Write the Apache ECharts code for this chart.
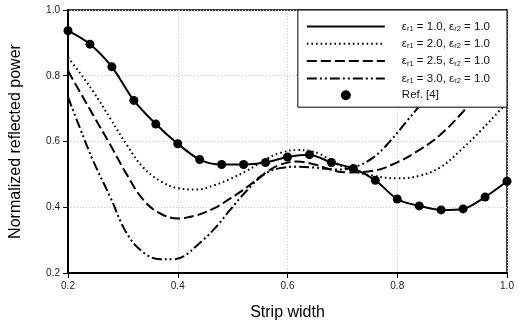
<!DOCTYPE html>
<html>
<head>
<meta charset="utf-8">
<script src="https://cdn.jsdelivr.net/npm/echarts@6/dist/echarts.min.js"></script>
<style>
  html, body { margin: 0; padding: 0; background: #fff; }
  #chart { width: 522px; height: 326px; }
</style>
</head>
<body>
<div id="chart"></div>
<script>
// ---- Data ----
var xTicks = [0.2, 0.4, 0.6, 0.8, 1.0];
var yTicks = [0.2, 0.4, 0.6, 0.8, 1.0];

var stripWidth = [0.20, 0.24, 0.28, 0.32, 0.36, 0.40, 0.44, 0.48, 0.52, 0.56, 0.60,
                  0.64, 0.68, 0.72, 0.76, 0.80, 0.84, 0.88, 0.92, 0.96, 1.00];

// eps_r1 = 1.0 (solid)
var eps10 = [0.937, 0.896, 0.827, 0.725, 0.653, 0.593, 0.545, 0.530, 0.530, 0.536, 0.553,
             0.560, 0.536, 0.518, 0.482, 0.425, 0.404, 0.392, 0.395, 0.431, 0.479];
// Ref. [4] markers
var ref4 = [0.937, 0.896, 0.827, 0.725, 0.653, 0.593, 0.545, 0.530, 0.530, 0.536, 0.553,
            0.560, 0.536, 0.518, 0.482, 0.425, 0.404, 0.392, 0.395, 0.431, 0.479];

// eps_r1 = 2.0 (dotted): [x, y]
var eps20 = [[0.200, 0.856], [0.222, 0.808], [0.246, 0.752], [0.277, 0.670], [0.307, 0.590],
             [0.337, 0.521], [0.368, 0.480], [0.400, 0.458], [0.435, 0.454], [0.465, 0.466],
             [0.495, 0.486], [0.526, 0.511], [0.556, 0.541], [0.586, 0.565], [0.617, 0.574],
             [0.641, 0.571], [0.659, 0.562], [0.708, 0.518], [0.756, 0.496], [0.799, 0.488],
             [0.841, 0.496], [0.878, 0.521], [0.914, 0.571], [0.951, 0.631], [0.987, 0.695],
             [1.000, 0.718]];

// eps_r1 = 2.5 (dashed)
var eps25 = [[0.200, 0.815], [0.222, 0.750], [0.246, 0.680], [0.277, 0.590], [0.307, 0.500],
             [0.337, 0.423], [0.368, 0.381], [0.401, 0.366], [0.435, 0.376], [0.465, 0.396],
             [0.495, 0.426], [0.526, 0.461], [0.556, 0.500], [0.586, 0.529], [0.617, 0.539],
             [0.647, 0.531], [0.708, 0.506], [0.756, 0.511], [0.799, 0.536], [0.841, 0.575],
             [0.878, 0.620], [0.914, 0.680], [0.950, 0.750], [1.000, 0.870]];

// eps_r1 = 3.0 (dash-dot-dot)
var eps30 = [[0.200, 0.735], [0.222, 0.640], [0.246, 0.541], [0.277, 0.431], [0.307, 0.321],
             [0.337, 0.263], [0.368, 0.242], [0.392, 0.242], [0.412, 0.252], [0.435, 0.284],
             [0.465, 0.331], [0.495, 0.391], [0.526, 0.451], [0.556, 0.498], [0.586, 0.519],
             [0.617, 0.523], [0.647, 0.521], [0.690, 0.515], [0.720, 0.521], [0.756, 0.551],
             [0.787, 0.601], [0.817, 0.661], [0.841, 0.710], [0.880, 0.800], [0.920, 0.900]];

var seriesNames = ['e10', 'e20', 'e25', 'e30', 'ref'];
var legendEps = ['1.0', '2.0', '2.5', '3.0'];

var chart = echarts.init(document.getElementById('chart'), null, { renderer: 'canvas' });

function legendFmt(name) {
  var i = seriesNames.indexOf(name);
  if (i < 4) {
    return '{a|\u03b5}{s|r1}{a| = ' + legendEps[i] + ', \u03b5}{s|r2}{a| = 1.0}';
  }
  return '{a|Ref. [4]}';
}

var FONT = 'Liberation Sans, Arial, sans-serif';
var hiddenSymbol = { color: 'rgba(0,0,0,0)', borderColor: 'rgba(0,0,0,0)', borderWidth: 0 };

var option = {
  animation: false,
  backgroundColor: '#ffffff',
  grid: {
    left: 68, right: 15, top: 10, bottom: 49,
    show: true, borderColor: '#000', borderWidth: 1.5, backgroundColor: 'transparent'
  },
  legend: {
    orient: 'vertical',
    right: 15, top: 10,
    data: seriesNames.map(function (n, i) {
      return i < 4 ? { name: n, itemStyle: hiddenSymbol } : { name: n };
    }),
    formatter: legendFmt,
    backgroundColor: '#fff',
    borderColor: '#000',
    borderWidth: 1,
    borderRadius: 0,
    padding: [10, 17, 6, 8],
    itemWidth: 78,
    itemHeight: 10,
    itemGap: 4.3,
    align: 'left',
    z: 10,
    textStyle: {
      padding: [0, 0, 0, 12],
      rich: {
        a: { fontFamily: FONT, fontSize: 11.5, color: '#111', lineHeight: 14 },
        s: { fontFamily: FONT, fontSize: 7.5, color: '#111', lineHeight: 14, padding: [5, 0, 0, 0] }
      }
    }
  },
  xAxis: {
    type: 'value',
    min: 0.2, max: 1.0, interval: 0.2,
    name: 'Strip width',
    nameLocation: 'middle',
    nameGap: 32,
    nameTextStyle: { fontFamily: FONT, fontSize: 16, color: '#000' },
    axisLine: { show: true, onZero: false, lineStyle: { color: '#000', width: 2 } },
    axisTick: { show: true, length: 5, lineStyle: { color: '#000', width: 1 } },
    axisLabel: {
      fontFamily: FONT, fontSize: 10, color: '#222', margin: 8,
      formatter: function (v) { return v.toFixed(1); }
    },
    splitLine: { show: true, lineStyle: { color: '#c8c8c8', type: [1, 2], width: 1 } }
  },
  yAxis: {
    type: 'value',
    min: 0.2, max: 1.0, interval: 0.2,
    name: 'Normalized reflected power',
    nameLocation: 'middle',
    nameGap: 44,
    nameTextStyle: { fontFamily: FONT, fontSize: 16, color: '#000' },
    axisLine: { show: true, onZero: false, lineStyle: { color: '#000', width: 2 } },
    axisTick: { show: true, length: 5, lineStyle: { color: '#000', width: 1 } },
    axisLabel: {
      fontFamily: FONT, fontSize: 10, color: '#222', margin: 8,
      formatter: function (v) { return v.toFixed(1); }
    },
    splitLine: { show: true, lineStyle: { color: '#c8c8c8', type: [1, 2], width: 1 } }
  },
  series: [
    {
      name: 'e10', type: 'line', symbol: 'none', smooth: 0.3,
      data: stripWidth.map(function (x, i) { return [x, eps10[i]]; }),
      lineStyle: { color: '#000', width: 2, type: 'solid' },
      itemStyle: { color: '#000' }, z: 3
    },
    {
      name: 'e20', type: 'line', symbol: 'none', smooth: 0.4,
      data: eps20,
      lineStyle: { color: '#000', width: 2, type: [1.6, 3] },
      itemStyle: { color: '#000' }
    },
    {
      name: 'e25', type: 'line', symbol: 'none', smooth: 0.4,
      data: eps25,
      lineStyle: { color: '#000', width: 2, type: [10, 4] },
      itemStyle: { color: '#000' }
    },
    {
      name: 'e30', type: 'line', symbol: 'none', smooth: 0.4,
      data: eps30,
      lineStyle: { color: '#000', width: 2, type: [10, 3, 2, 3, 2, 3] },
      itemStyle: { color: '#000' }
    },
    {
      name: 'ref', type: 'scatter', symbol: 'circle', symbolSize: 9,
      data: stripWidth.map(function (x, i) { return [x, ref4[i]]; }),
      itemStyle: { color: '#000', opacity: 1 }, z: 4
    }
  ]
};

chart.setOption(option);
</script>
</body>
</html>
